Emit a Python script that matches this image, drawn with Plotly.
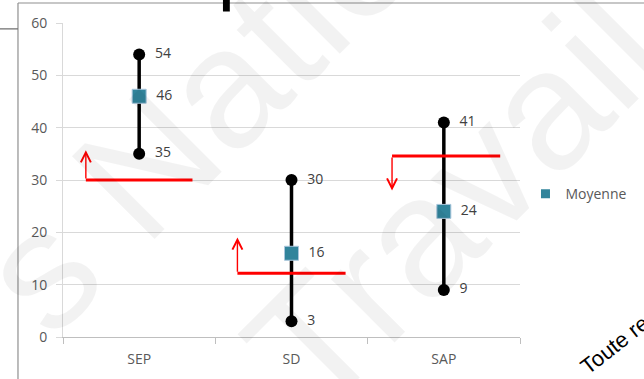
import plotly.graph_objects as go

# Summary statistics per group
categories = ["SEP", "SD", "SAP"]
maximums = [54, 30, 41]
means = [46, 16, 24]
minimums = [35, 3, 9]

# Hand-drawn red reference lines: level and arrow tip level per group
ref_levels = [30, 12.2, 34.6]
ref_tips = [35.7, 19, 28]
ref_left = [-0.35, -0.355, -0.34]
ref_right = [0.35, 0.355, 0.37]

y_ticks = [0, 10, 20, 30, 40, 50, 60]

TEAL = "#31849b"
LABEL_FONT = dict(family="Open Sans", size=14, color="#404040")

fig = go.Figure()

# Vertical min-max range bars
range_x, range_y = [], []
for c, lo, hi in zip(categories, minimums, maximums):
    range_x += [c, c, None]
    range_y += [lo, hi, None]
fig.add_trace(go.Scatter(
    x=range_x, y=range_y, mode="lines",
    line=dict(color="black", width=3.5),
    showlegend=False, hoverinfo="skip", cliponaxis=False,
))

for vals in (maximums, minimums):
    fig.add_trace(go.Scatter(
        x=categories, y=vals, mode="markers+text",
        marker=dict(symbol="circle", size=12, color="black"),
        text=[f"  {v}" for v in vals], textposition="middle right",
        textfont=LABEL_FONT, showlegend=False, cliponaxis=False,
    ))

fig.add_trace(go.Scatter(
    x=categories, y=means, mode="markers+text", name="Moyenne",
    marker=dict(symbol="square", size=14, color=TEAL,
                line=dict(color="#a9c6dc", width=1)),
    text=[f"  {v}" for v in means], textposition="middle right",
    textfont=LABEL_FONT, showlegend=False, cliponaxis=False,
))

# Legend entry for the mean series
fig.add_trace(go.Scatter(
    x=[None], y=[None], mode="markers", name="Moyenne",
    marker=dict(symbol="square", size=9, color=TEAL),
))

shapes = []
annotations = []
for i, (lvl, tip, l, r) in enumerate(zip(ref_levels, ref_tips, ref_left, ref_right)):
    shapes.append(dict(type="line", xref="x", yref="y",
                       x0=i + l, x1=i + r, y0=lvl, y1=lvl,
                       line=dict(color="#ff0000", width=3)))
    annotations.append(dict(
        x=i + l, y=tip, ax=i + l, ay=lvl, xref="x", yref="y",
        axref="x", ayref="y", text="", showarrow=True,
        arrowhead=5, arrowsize=1.4, arrowwidth=1.4, arrowcolor="#ff0000",
        standoff=0, startstandoff=0,
    ))

# Outer frame pieces around the chart block
shapes += [
    dict(type="line", xref="paper", yref="paper", x0=-0.0985, x1=1.3,
         y0=1.0637, y1=1.0637, line=dict(color="#8f8f8f", width=1.2)),
    dict(type="line", xref="paper", yref="paper", x0=-0.0985, x1=-0.0985,
         y0=1.0637, y1=-0.2, line=dict(color="#8f8f8f", width=1.2)),
    dict(type="line", xref="paper", yref="paper", x0=-0.2, x1=-0.0985,
         y0=0.981, y1=0.981, line=dict(color="#6f6f6f", width=1.2)),
    dict(type="rect", xref="paper", yref="paper", x0=0.350, x1=0.365,
         y0=1.0366, y1=1.1, fillcolor="black", line=dict(width=0)),
]

# Faint watermark and corner notice
annotations += [
    dict(xref="paper", yref="paper", x=0.855, y=0.436, text="Travail",
         xanchor="center", yanchor="middle", textangle=-45, showarrow=False,
         font=dict(family="Liberation Sans", size=170, color="rgba(0,0,0,0.05)")),
    dict(xref="paper", yref="paper", x=0.578, y=1.127, text="s Nationaux",
         xanchor="center", yanchor="middle", textangle=-45, showarrow=False,
         font=dict(family="Liberation Sans", size=170, color="rgba(0,0,0,0.05)")),
    dict(xref="paper", yref="paper", x=1.295, y=0.076, text="Toute reproduction",
         xanchor="center", yanchor="middle", textangle=-38, showarrow=False,
         font=dict(family="Liberation Sans", size=22, color="black")),
]

fig.update_layout(
    width=644, height=379,
    margin=dict(l=63, r=124, t=23, b=42, autoexpand=False),
    paper_bgcolor="white", plot_bgcolor="white",
    showlegend=True,
    legend=dict(x=1.012, y=0.455, xanchor="left", yanchor="middle",
                font=dict(family="Open Sans", size=14, color="#595959"),
                bgcolor="rgba(0,0,0,0)", itemwidth=30),
    shapes=shapes, annotations=annotations,
)
fig.update_xaxes(
    type="category", categoryorder="array", categoryarray=categories,
    range=[-0.5, 2.5], showgrid=False, tickson="boundaries",
    ticks="outside", ticklen=6, tickcolor="#bfbfbf",
    showline=True, linecolor="#bfbfbf", linewidth=1,
    tickfont=dict(family="Open Sans", size=14, color="#595959"),
    ticklabelstandoff=9,
)
fig.update_yaxes(
    range=[0, 60], tickvals=y_ticks, showgrid=True, gridcolor="#d9d9d9",
    gridwidth=1, ticks="outside", ticklen=6, tickcolor="#d9d9d9",
    showline=True, linecolor="#d9d9d9", zeroline=False,
    tickfont=dict(family="Open Sans", size=14, color="#595959"),
    ticklabelstandoff=6,
)

fig.write_html("out.html")
